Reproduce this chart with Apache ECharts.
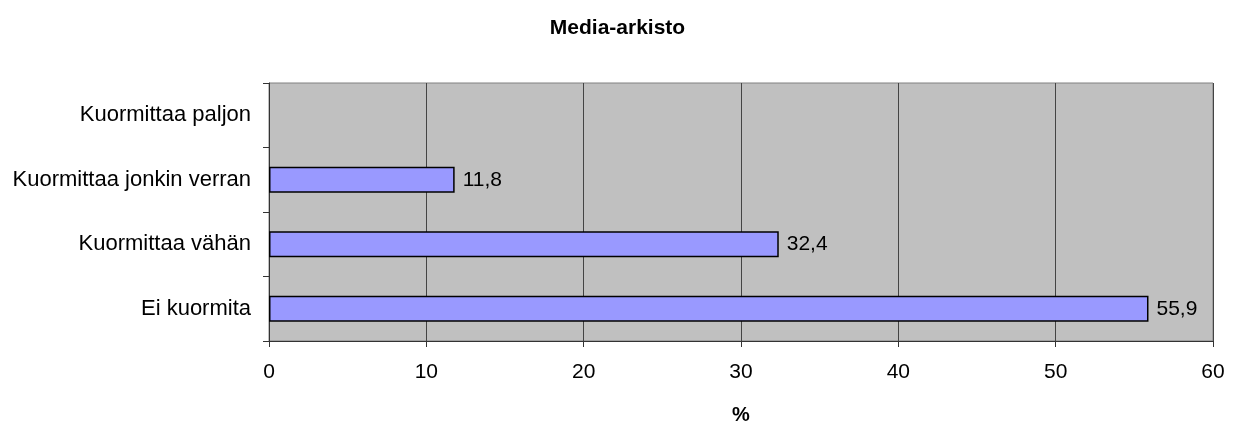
<!DOCTYPE html>
<html>
<head>
<meta charset="utf-8">
<script src="https://cdn.jsdelivr.net/npm/echarts@6/dist/echarts.min.js"></script>
<style>
  html, body { margin: 0; padding: 0; background: #fff; }
  #chart { width: 1235px; height: 428px; }
</style>
</head>
<body>
<div id="chart"></div>
<script>
// Categories listed bottom-to-top (category axis on y starts at the bottom)
const categories = ['Ei kuormita', 'Kuormittaa vähän', 'Kuormittaa jonkin verran', 'Kuormittaa paljon'];
const values = [55.9, 32.4, 11.8, null];
const xTicks = { min: 0, max: 60, interval: 10 };

const FONT = '"Liberation Sans", Arial, sans-serif';
const chart = echarts.init(document.getElementById('chart'), null, { renderer: 'canvas' });

chart.setOption({
  animation: false,
  backgroundColor: '#ffffff',
  title: {
    text: 'Media-arkisto',
    left: 'center', top: 13,
    textStyle: { fontFamily: FONT, fontSize: 21, fontWeight: 'bold', color: '#000' }
  },
  grid: {
    left: 269, right: 22, top: 83, bottom: 87,
    containLabel: false, outerBoundsMode: 'none',
    show: true, backgroundColor: '#c0c0c0', borderColor: '#808080', borderWidth: 1
  },
  xAxis: {
    type: 'value',
    min: xTicks.min, max: xTicks.max, interval: xTicks.interval,
    name: '%', nameLocation: 'middle', nameGap: 64,
    nameTextStyle: { fontFamily: FONT, fontSize: 20, fontWeight: 'bold', color: '#000' },
    axisLine: { show: true, lineStyle: { color: '#333', width: 1 } },
    axisTick: { show: true, length: 6, inside: false, lineStyle: { color: '#333' } },
    axisLabel: { fontFamily: FONT, fontSize: 21, color: '#000', margin: 21 },
    splitLine: { show: true, lineStyle: { color: '#444', width: 1 } }
  },
  yAxis: {
    type: 'category',
    data: categories,
    axisLine: { show: true, lineStyle: { color: '#333', width: 1 } },
    axisTick: { show: true, length: 6, alignWithLabel: false, lineStyle: { color: '#333' } },
    axisLabel: { fontFamily: FONT, fontSize: 22, color: '#000', margin: 18 },
    splitLine: { show: false }
  },
  series: [{
    type: 'bar',
    data: values,
    barWidth: '40%',
    itemStyle: { color: '#9999ff', borderColor: '#000', borderWidth: 1.5 },
    label: {
      show: true, position: 'right', distance: 8,
      fontFamily: FONT, fontSize: 21, color: '#000',
      formatter: p => p.value == null ? '' : String(p.value.toFixed(1)).replace('.', ',')
    }
  }]
});
</script>
</body>
</html>
